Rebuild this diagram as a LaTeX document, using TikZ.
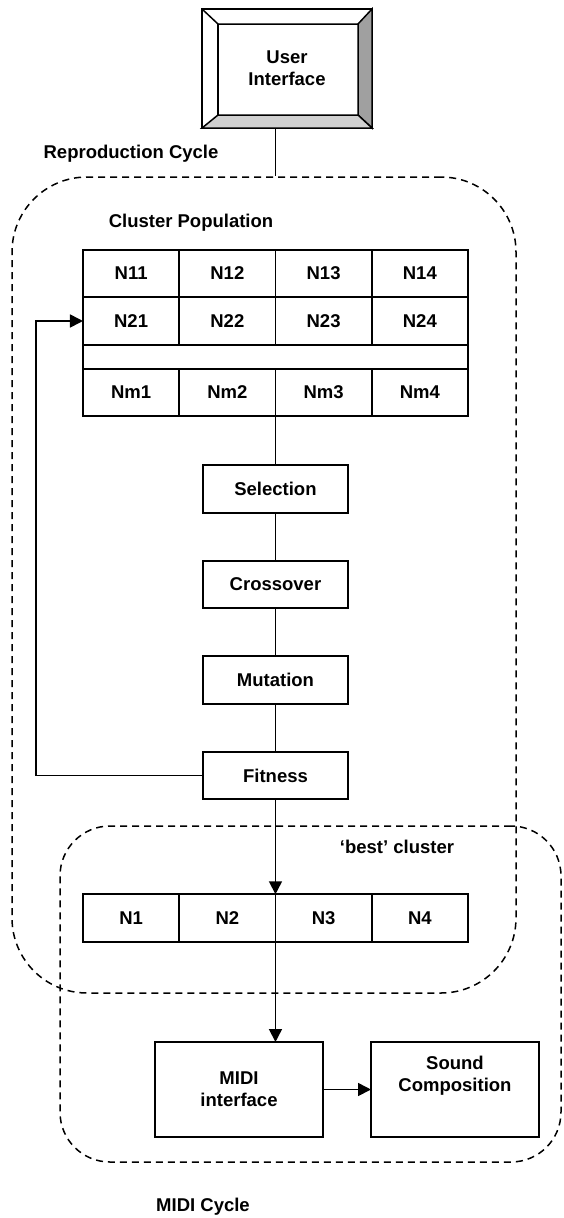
\documentclass[tikz,border=0pt]{standalone}
\usepackage{fontspec}
\setmainfont{Liberation Sans}
\usetikzlibrary{arrows.meta, positioning, calc}
\definecolor{bevdark}{RGB}{160,160,160}
\definecolor{bevlight}{RGB}{208,208,208}
\newcommand{\boxfont}{\bfseries\fontsize{18.5}{22}\selectfont}
\tikzset{
  cell/.style={rectangle, draw, line width=1.7pt, outer sep=0pt, inner sep=0pt,
    minimum width=96.25pt, minimum height=47.5pt, font=\boxfont},
  opbox/.style={rectangle, draw, line width=1.7pt, outer sep=0pt,
    minimum width=145pt, minimum height=47.5pt, font=\boxfont},
  iobox/.style={rectangle, draw, line width=1.7pt, outer sep=0pt, align=center,
    minimum width=168pt, minimum height=95pt, font=\boxfont},
  uibox/.style={rectangle, draw, line width=1.7pt, outer sep=0pt, align=center,
    minimum width=170pt, minimum height=119pt, font=\boxfont},
  bevel/.style={line width=1.5pt, line join=miter},
  region/.style={rectangle, draw, line width=1.5pt, dash pattern=on 7pt off 5pt},
  cyclelabel/.style={inner sep=0pt, font=\boxfont},
  link/.style={line width=1.7pt},
  arrow/.style={-{Triangle[length=13pt, width=13pt]}, line width=1.7pt},
}
\begin{document}
\begin{tikzpicture}[x=1pt, y=-1pt]
  \useasboundingbox (0,0) rectangle (563,1218);

  \node[region, minimum width=504pt, minimum height=816pt, rounded corners=75pt] (repro) at (264,585) {};
  \node[region, minimum width=501pt, minimum height=336pt, rounded corners=50pt] (midicyc) at (310.5,994) {};

  \node[uibox] (ui) at (287,68.5) {User\\Interface};
  \coordinate (uinw) at ($(ui.north west)+(16,15)$);
  \coordinate (uine) at ($(ui.north east)+(-14,15)$);
  \coordinate (uise) at ($(ui.south east)+(-14,-13)$);
  \coordinate (uisw) at ($(ui.south west)+(16,-13)$);
  \filldraw[bevel, fill=bevdark] (ui.north east) -- (ui.south east) -- (uise) -- (uine) -- cycle;
  \filldraw[bevel, fill=bevlight] (ui.south west) -- (ui.south east) -- (uise) -- (uisw) -- cycle;
  \draw[bevel] (ui.north west) -- (uinw) -- (uine);
  \draw[bevel] (uinw) -- (uisw);

  \node[cyclelabel] (reprolabel) at (131,154) {Reproduction Cycle};
  \node[cyclelabel] (poplabel) at (191,223) {Cluster Population};

  \node[cell] (n11) at (131.1,273.5) {N11};
  \node[cell, right=0pt of n11] (n12) {N12};
  \node[cell, right=0pt of n12] (n13) {N13};
  \node[cell, right=0pt of n13] (n14) {N14};
  \node[cell, below=0pt of n11] (n21) {N21};
  \node[cell, right=0pt of n21] (n22) {N22};
  \node[cell, right=0pt of n22] (n23) {N23};
  \node[cell, right=0pt of n23] (n24) {N24};
  \node[cell, minimum width=385pt, minimum height=24pt,
        below right=0pt and 0pt of n21.south west] (gap) {};
  \node[cell, below right=0pt and 0pt of gap.south west] (nm1) {Nm1};
  \node[cell, right=0pt of nm1] (nm2) {Nm2};
  \node[cell, right=0pt of nm2] (nm3) {Nm3};
  \node[cell, right=0pt of nm3] (nm4) {Nm4};

  \node[opbox, below=49pt of nm2.south east] (sel)   {Selection};
  \node[opbox, below=48pt of sel]            (cross) {Crossover};
  \node[opbox, below=48pt of cross]          (mut)   {Mutation};
  \node[opbox, below=48pt of mut]            (fit)   {Fitness};

  \node[cyclelabel] (bestlabel) at (397,847) {‘best’ cluster};
  \node[cell, below left=95pt and 0pt of fit.south] (n2) {N2};
  \node[cell, left=0pt of n2]  (n1) {N1};
  \node[cell, right=0pt of n2] (n3) {N3};
  \node[cell, right=0pt of n3] (n4) {N4};

  \node[iobox] (midi) at (239,1089.5) {MIDI\\interface};
  \node[iobox, right=48pt of midi] (sound) {Sound\\Composition\\[10pt]~};
  \node[cyclelabel] (midilabel) at (203,1207) {MIDI Cycle};

  \draw[link](sel |- ui.south)--(sel |- repro.north);
  \draw[link](nm2.south east)--(sel);
  \draw[link](sel)--(cross);
  \draw[link](cross)--(mut);
  \draw[link](mut)--(fit);
  \draw[arrow](fit.west)--++(-167,0)|-(n21.west);
  \draw[arrow](fit.south)--(n2.north east);
  \draw[arrow](n2.south east)--(n2.south east |- midi.north);
  \draw[arrow](midi)--(sound);
\end{tikzpicture}
\end{document}
